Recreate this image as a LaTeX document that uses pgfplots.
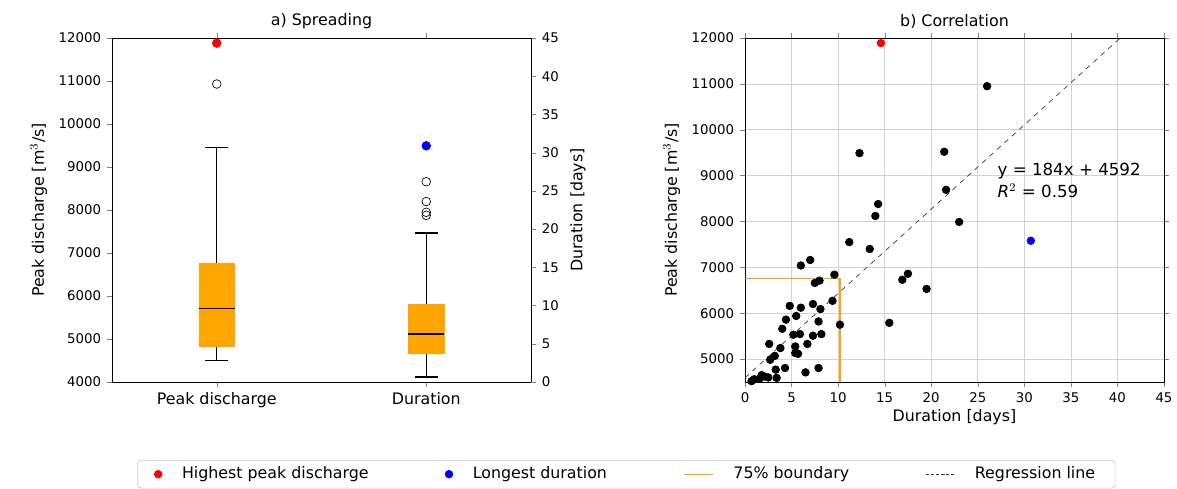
\documentclass[border=0pt]{standalone}
\usepackage{pgfplots}
\pgfplotsset{compat=1.18}
\usepackage{fontspec}
\setmainfont{DejaVu Sans}
\definecolor{mplorange}{RGB}{255,165,0}
\begin{document}
\begin{tikzpicture}[font=\fontsize{8}{9.6}\selectfont]
\useasboundingbox (-67.2pt,-63.6pt) rectangle (639pt,229.2pt);
\pgfplotsset{every axis/.append style={scale only axis, width=251.4pt, height=206.4pt, scaled ticks=false,
  /pgf/number format/assume math mode=true, /pgf/number format/1000 sep={},
  tick label style={font=\fontsize{8}{9.6}\selectfont}, label style={font=\fontsize{9.5}{11.4}\selectfont},
  title style={font=\fontsize{9.5}{11.4}\selectfont, yshift=-4pt}, tick align=outside, major tick length=3pt}}
% left axis
\begin{axis}[at={(0,0)}, anchor=south west, xmin=0.5, xmax=2.5, ymin=4000, ymax=12000,
  axis y line*=left, xtick={1,2}, xticklabels={Peak discharge, Duration},
  xticklabel style={font=\fontsize{9.5}{11.4}\selectfont},
  ytick={4000,5000,...,12000}, ylabel={Peak discharge [m$^3$/s]}, title={a) Spreading}]
% box 1
\addplot[black, thick] coordinates {(1,4500) (1,4830)};
\addplot[black, thick] coordinates {(1,6750) (1,9460)};
\addplot[black, thick] coordinates {(0.945,4500) (1.055,4500)};
\addplot[black, thick] coordinates {(0.945,9460) (1.055,9460)};
\addplot[fill=mplorange, draw=mplorange] coordinates {(0.915,4830) (1.085,4830) (1.085,6750) (0.915,6750)} --cycle;
\addplot[black, thick] coordinates {(0.915,5710) (1.085,5710)};
% box 2
\addplot[black, thick] coordinates {(2,4116) (2,4676)};
\addplot[black, thick] coordinates {(2,5796) (2,7467)};
\addplot[black, thick] coordinates {(1.945,4116) (2.055,4116)};
\addplot[black, thick] coordinates {(1.945,7467) (2.055,7467)};
\addplot[fill=mplorange, draw=mplorange] coordinates {(1.915,4676) (2.085,4676) (2.085,5796) (1.915,5796)} --cycle;
\addplot[black, thick] coordinates {(1.915,5120) (2.085,5120)};
\addplot[only marks, mark=o, mark size=2.6pt, black, thin] coordinates {(1,10930) (2,8658) (2,8196) (2,7947) (2,7876)};
\addplot[only marks, mark=*, mark size=2.6pt, red] coordinates {(1,11880)};
\addplot[only marks, mark=*, mark size=2.6pt, blue] coordinates {(2,9493)};
\end{axis}
\begin{axis}[at={(0,0)}, anchor=south west, xmin=0.5, xmax=2.5, ymin=0, ymax=45,
  axis y line*=right, axis x line=none, ytick={0,5,...,45}, ylabel={Duration [days]}]
\addplot[draw=none] coordinates {(1,1)};
\end{axis}
% right axis
\begin{axis}[at={(379.8pt,0)}, anchor=south west, xmin=0, xmax=45, ymin=4500, ymax=12000,
  xtick={0,5,...,45}, ytick={5000,6000,...,12000}, grid=major, grid style={gray!35},
  xlabel={Duration [days]}, ylabel={Peak discharge [m$^3$/s]}, title={b) Correlation},
  xlabel style={yshift=3pt},
  legend columns=4, legend style={at={(-0.283,-0.268)}, anchor=center, draw=gray!40, rounded corners=2pt,
   font=\fontsize{9.5}{11.4}\selectfont, inner xsep=10pt,
   /tikz/every odd column/.append style={column sep=10pt},
   /tikz/every even column/.append style={column sep=44pt}},
  legend cell align=left]
\addplot[only marks, mark=*, mark size=2.3pt, black, forget plot] coordinates {
(11.2,7550) (13.4,7400) (7.0,7160) (6.0,7040) (9.6,6840) (8.0,6710) (7.5,6660) (9.4,6270)
(7.3,6200) (4.8,6160) (6.0,6120) (8.1,6090) (4.4,5860) (7.9,5820) (5.5,5940) (4.0,5660)
(5.2,5530) (5.9,5545) (7.3,5510) (8.2,5545) (10.2,5750) (2.6,5330) (6.7,5330) (3.8,5240)
(5.4,5275) (5.4,5130) (5.7,5115) (2.7,4985) (3.2,5070) (4.3,4805) (6.5,4710) (7.9,4805)
(3.3,4770) (3.4,4590) (1.0,4560) (1.6,4580) (2.1,4620) (2.5,4600) (0.7,4520) (1.8,4650)
(12.3,9490) (14.3,8380) (14.0,8120) (21.4,9520) (21.6,8690) (23.0,7990) (26.0,10950)
(16.9,6730) (17.5,6860) (19.5,6530) (15.5,5790)};
\addplot[only marks, mark=*, mark size=2.3pt, red, forget plot] coordinates {(14.6,11890)};
\addplot[only marks, mark=*, mark size=2.3pt, blue, forget plot] coordinates {(30.7,7580)};
\addplot[mplorange, line width=0.8pt, forget plot] coordinates {(0,6760) (10.2,6760) (10.2,4500)};
\addplot[black!80, dashed, forget plot] coordinates {(0,4592) (40.3,12000)};
\node[anchor=west, align=left, font=\fontsize{10}{13}\selectfont] at (axis cs:26.5,8900) {y = 184x + 4592\\\textit{R}$^2$ = 0.59};
\addlegendimage{only marks, mark=*, red, mark size=2.3pt}
\addlegendentry{Highest peak discharge}
\addlegendimage{only marks, mark=*, blue, mark size=2.3pt}
\addlegendentry{Longest duration}
\addlegendimage{mplorange, line width=0.8pt}
\addlegendentry{75\% boundary}
\addlegendimage{black!80, dash pattern=on 2pt off 1pt}
\addlegendentry{Regression line}
\end{axis}
\end{tikzpicture}
\end{document}
